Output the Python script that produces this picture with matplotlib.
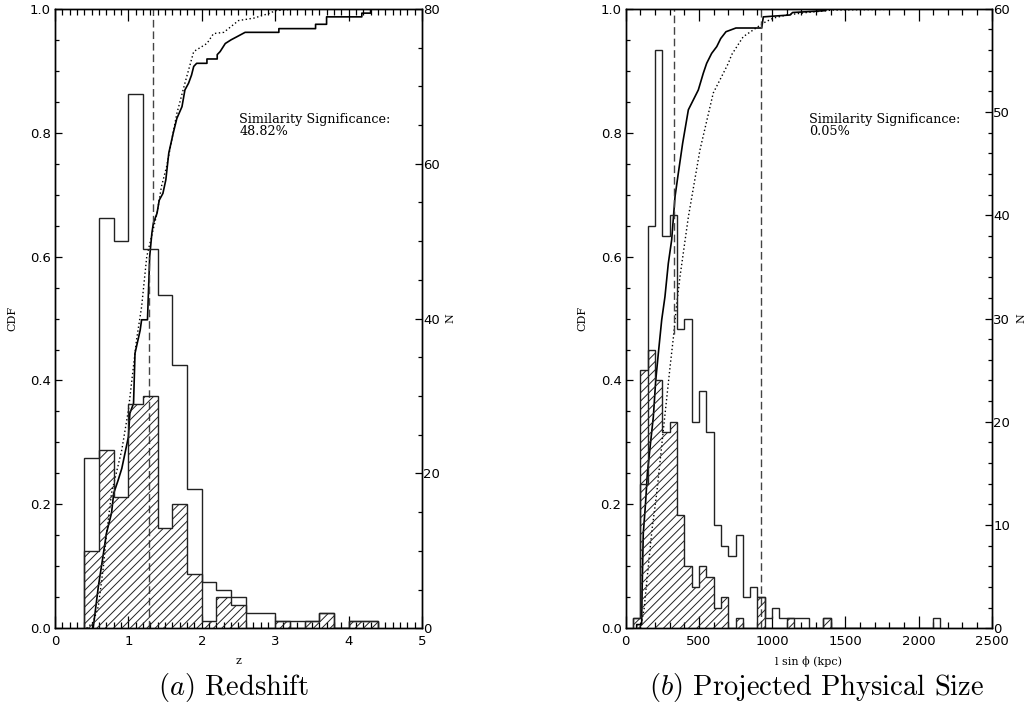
import matplotlib
matplotlib.use("Agg")
import matplotlib.pyplot as plt
import numpy as np
from matplotlib.ticker import MultipleLocator, FormatStrFormatter

plt.rcParams["font.family"] = ["DejaVu Sans"]
plt.rcParams["mathtext.fontset"] = "cm"
plt.rcParams["hatch.linewidth"] = 0.7

# ---------------- Redshift panel ----------------
z_bin_start = 0.4
z_bin_width = 0.2
# full sample (open outline) and sub-sample (hatched), counts per bin
z_counts_all = [22, 53, 50, 69, 49, 43, 34, 18, 6, 5, 4, 2, 2, 1, 1, 1, 2, 0, 1, 1]
z_counts_sub = [10, 23, 17, 29, 30, 13, 16, 7, 1, 4, 3, 0, 0, 1, 0, 1, 2, 0, 1, 1]
# cumulative distributions (sub-sample: solid, full sample: dotted)
z_cdf_sub_x = [0.52, 0.59, 0.66, 0.70, 0.77, 0.80, 0.86, 0.91, 1.00, 1.02, 1.07, 1.09,
               1.16, 1.18, 1.26, 1.29, 1.32, 1.34, 1.39, 1.42, 1.47, 1.51, 1.55, 1.61,
               1.66, 1.73, 1.77, 1.82, 1.86, 1.89, 1.93, 2.07, 2.07, 2.21, 2.21, 2.25,
               2.32, 2.40, 2.48, 2.59, 3.05, 3.05, 3.55, 3.55, 3.70, 3.70, 4.18, 4.18,
               4.30, 4.30, 4.40]
z_cdf_sub_y = [0.000, 0.067, 0.121, 0.153, 0.186, 0.218, 0.239, 0.258, 0.309, 0.347, 0.363, 0.444,
               0.481, 0.498, 0.498, 0.600, 0.638, 0.654, 0.670, 0.691, 0.702, 0.724, 0.767, 0.799,
               0.823, 0.842, 0.869, 0.880, 0.893, 0.907, 0.912, 0.912, 0.919, 0.919, 0.926, 0.931,
               0.944, 0.950, 0.955, 0.962, 0.962, 0.968, 0.968, 0.975, 0.975, 0.987, 0.987, 0.993,
               0.993, 1.000, 1.000]
z_cdf_all_x = [0.43, 0.52, 0.59, 0.66, 0.70, 0.77, 0.91, 1.00, 1.11, 1.18, 1.25, 1.39, 1.45,
               1.52, 1.66, 1.77, 1.89, 2.07, 2.16, 2.30, 2.50, 2.71, 2.93, 3.00, 3.30, 4.40]
z_cdf_all_y = [0.000, 0.010, 0.035, 0.100, 0.150, 0.218, 0.288, 0.352, 0.465, 0.519, 0.600, 0.670, 0.713,
               0.745, 0.831, 0.880, 0.931, 0.944, 0.960, 0.962, 0.981, 0.985, 0.993, 0.997, 1.000, 1.000]
z_marker_x = [1.34, 1.28]
z_marker_lo = [0.655, 0.0]
z_marker_hi = [1.0, 0.60]
z_significance = "48.82%"

# ---------------- Projected size panel ----------------
s_bin_start = 50
s_bin_width = 50
s_counts_all = [1, 14, 39, 56, 38, 40, 29, 30, 20, 23, 19, 10, 8, 7, 9, 3, 4, 3, 1, 2,
                1, 1, 1, 1, 0, 0, 1, 0, 0, 0, 0, 0, 0, 0, 0, 0, 0, 0, 0, 0, 0, 1]
s_counts_sub = [1, 25, 27, 24, 19, 20, 11, 6, 4, 6, 5, 2, 3, 0, 1, 0, 0, 3, 0, 0,
                0, 1, 0, 0, 0, 0, 1, 0, 0, 0, 0, 0, 0, 0, 0, 0, 0, 0, 0, 0, 0, 0]
s_cdf_sub_x = [75, 75, 109, 112, 120, 135, 148, 170, 189, 205, 223, 246, 268, 291, 314, 337,
               359, 389, 428, 462, 496, 530, 553, 587, 622, 649, 685, 753, 929, 940, 1122,
               1140, 1361, 1380]
s_cdf_sub_y = [0.000, 0.006, 0.006, 0.060, 0.153, 0.200, 0.250, 0.300, 0.342, 0.400, 0.444, 0.498,
               0.535, 0.589, 0.627, 0.697, 0.734, 0.783, 0.837, 0.853, 0.869, 0.896, 0.912, 0.928,
               0.939, 0.952, 0.963, 0.969, 0.969, 0.987, 0.990, 0.994, 0.997, 1.000]
s_cdf_all_x = [100, 125, 154, 180, 212, 257, 303, 325, 344, 371, 428, 507, 598, 701, 724, 803,
               872, 940, 1008, 1100, 1236, 1380, 1400, 2150]
s_cdf_all_y = [0.000, 0.030, 0.099, 0.160, 0.218, 0.320, 0.422, 0.468, 0.514, 0.568, 0.664, 0.772,
               0.864, 0.912, 0.926, 0.955, 0.966, 0.977, 0.985, 0.990, 0.994, 0.997, 0.998, 1.000]
s_marker_x = [332, 926]
s_marker_lo = [0.475, 0.0]
s_marker_hi = [1.0, 1.0]
s_significance = "0.05%"

W, H = 1029, 723
fig = plt.figure(figsize=(W / 100, H / 100), dpi=100)

X0, Y0 = 628.3, 8.8   # pixel rows of CDF = 0 and CDF = 1


def panel(left_px, width_px, xmax, xmajor, xminor, nmax, nmajor, nminor,
          bin_start, bin_width, counts_all, counts_sub,
          cdf_sub_x, cdf_sub_y, cdf_all_x, cdf_all_y,
          mk_x, mk_lo, mk_hi, sig, text_x, xlabel, nlabel_x):
    ax = fig.add_axes([left_px / W, (H - X0) / H, width_px / W, (X0 - Y0) / H])
    ax2 = ax.twinx()

    edges = bin_start + bin_width * np.arange(len(counts_all) + 1)
    ax2.stairs(counts_sub, edges, fill=True, facecolor="none", edgecolor="#222222",
               hatch="////", linewidth=1.0)
    ax2.stairs(counts_all, edges, fill=False, edgecolor="#222222", linewidth=1.0,
               baseline=0)

    ax.plot(cdf_sub_x, cdf_sub_y, color="black", lw=1.2)
    ax.plot(cdf_all_x, cdf_all_y, color="black", lw=1.0, ls=(0, (1, 1.8)))
    ax.vlines(mk_x, mk_lo, mk_hi, colors="#444444", linewidth=1.0,
              linestyles=[(0, (5.5, 2.8))])

    ax.set_xlim(0, xmax)
    ax.set_ylim(0, 1)
    ax2.set_ylim(0, nmax)

    ax.xaxis.set_major_locator(MultipleLocator(xmajor))
    ax.xaxis.set_minor_locator(MultipleLocator(xminor))
    ax.yaxis.set_major_locator(MultipleLocator(0.2))
    ax.yaxis.set_minor_locator(MultipleLocator(0.05))
    ax.yaxis.set_major_formatter(FormatStrFormatter("%.1f"))
    ax2.yaxis.set_major_locator(MultipleLocator(nmajor))
    ax2.yaxis.set_minor_locator(MultipleLocator(nminor))

    ax.tick_params(axis="x", which="major", direction="in", top=True, length=8.9,
                   width=0.9, labelsize=9.5, pad=5)
    ax.tick_params(axis="x", which="minor", direction="in", top=True, length=4.5, width=0.9)
    ax.tick_params(axis="y", which="major", direction="in", length=5.3, width=0.9,
                   labelsize=9.5, pad=3)
    ax.tick_params(axis="y", which="minor", direction="in", length=2.6, width=0.9)
    ax2.tick_params(axis="y", which="major", direction="in", length=5.3, width=0.9,
                    labelsize=9.5, pad=1)
    ax2.tick_params(axis="y", which="minor", direction="in", length=2.6, width=0.9)
    for a in (ax, ax2):
        for sp in a.spines.values():
            sp.set_linewidth(1.0)

    ax.set_ylabel("CDF", family="DejaVu Serif", fontsize=8)
    ax.yaxis.set_label_coords(-38.0 / width_px, 0.5)
    ax2.set_ylabel("N", family="DejaVu Serif", fontsize=8, rotation=90)
    ax2.yaxis.set_label_coords(nlabel_x / width_px, 0.5)
    ax.set_xlabel(xlabel, family="DejaVu Serif", fontsize=8)
    ax.xaxis.set_label_coords(0.5, -28.0 / (X0 - Y0))

    ax.text(text_x, 0.816, "Similarity Significance:", family="DejaVu Serif",
            fontsize=9.2, va="baseline", ha="left")
    ax.text(text_x, 0.797, sig, family="DejaVu Serif", fontsize=9.2,
            va="baseline", ha="left")
    return ax


panel(55, 367, 5, 1, 0.1, 80, 20, 5, z_bin_start, z_bin_width,
      z_counts_all, z_counts_sub, z_cdf_sub_x, z_cdf_sub_y, z_cdf_all_x, z_cdf_all_y,
      z_marker_x, z_marker_lo, z_marker_hi, z_significance, 2.51, "z", 390)
panel(625.7, 366, 2500, 500, 100, 60, 10, 2, s_bin_start, s_bin_width,
      s_counts_all, s_counts_sub, s_cdf_sub_x, s_cdf_sub_y, s_cdf_all_x, s_cdf_all_y,
      s_marker_x, s_marker_lo, s_marker_hi, s_significance, 1254,
      "l sin \u03d5 (kpc)", 391)

fig.text(234 / W, (H - 695) / H, r"$\mathit{(a)}$ Redshift", fontsize=20.5,
         family="cmr10", ha="center", va="baseline")
fig.text(817 / W, (H - 695) / H, r"$\mathit{(b)}$ Projected Physical Size", fontsize=20.5,
         family="cmr10", ha="center", va="baseline")

fig.savefig("out.png", dpi=100)
